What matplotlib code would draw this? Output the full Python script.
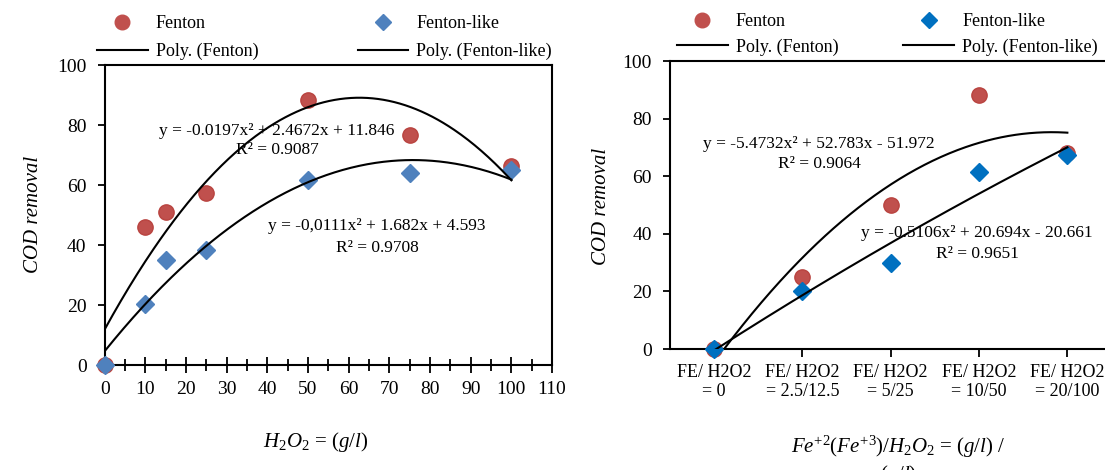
import numpy as np
import matplotlib
matplotlib.use('Agg')
import matplotlib.pyplot as plt
from matplotlib.lines import Line2D
from matplotlib.ticker import MultipleLocator

plt.rcParams['font.family'] = ['Liberation Serif', 'DejaVu Serif']
plt.rcParams['mathtext.fontset'] = 'custom'
plt.rcParams['mathtext.rm'] = 'Liberation Serif'
plt.rcParams['mathtext.it'] = 'Liberation Serif:italic'

# left panel: COD removal vs H2O2 dose (g/l)
h2o2 = [0, 10, 15, 25, 50, 75, 100]
fenton_h2o2 = [0, 46, 51, 57.2, 88.3, 76.7, 66.3]
like_h2o2 = [0, 20.3, 35, 38.3, 61.7, 64.1, 65]
# trendline coefficients as printed on the chart (a, b, c)
fit_fenton_h2o2 = [-0.0197, 2.4672, 11.846]
fit_like_h2o2 = [-0.0111, 1.682, 4.593]

# right panel: COD removal vs Fe/H2O2 ratio
ratio_labels = ['FE/ H2O2\n= 0', 'FE/ H2O2\n= 2.5/12.5', 'FE/ H2O2\n= 5/25',
                'FE/ H2O2\n= 10/50', 'FE/ H2O2\n= 20/100']
fenton_ratio = [0, 25, 50, 88.2, 68]
like_ratio = [0, 20, 30, 61.6, 67.4]
fit_fenton_ratio = [-5.4732, 52.783, -51.972]
fit_like_ratio = [-0.5106, 20.694, -20.661]

RED = '#C0504D'
BLUE_L = '#4F81BD'
BLUE_R = '#0070C0'


def style_axes(ax):
    for s in ax.spines.values():
        s.set_linewidth(1.5)
        s.set_color('black')
    ax.tick_params(labelsize=14, width=1.3, color='black')


def add_legend(fig, x, y, mk_color, colsp, labsp):
    handles = [
        Line2D([], [], ls='', marker='o', ms=10.5, color=RED, mec=RED),
        Line2D([], [], color='black', lw=1.5),
        Line2D([], [], ls='', marker='D', ms=8, color=mk_color, mec=mk_color),
        Line2D([], [], color='black', lw=1.5),
    ]
    labels = ['Fenton', 'Poly. (Fenton)', 'Fenton-like', 'Poly. (Fenton-like)']
    fig.legend(handles, labels, loc='upper left', bbox_to_anchor=(x, y), ncol=2,
               frameon=False, fontsize=13, handlelength=2.8, handletextpad=0.45,
               columnspacing=colsp, labelspacing=labsp, borderpad=0, borderaxespad=0)


fig = plt.figure(figsize=(11.05, 4.7), dpi=100)

# ---------- left chart ----------
ax1 = fig.add_axes([0.0947, 0.2234, 0.4049, 0.6383])
ax1.plot(h2o2, fenton_h2o2, 'o', color=RED, mec='#B9433F', ms=11, clip_on=False, zorder=3)
ax1.plot(h2o2, like_h2o2, 'D', color=BLUE_L, mec=BLUE_L, ms=9, clip_on=False, zorder=4)
xs = np.linspace(0, 100, 300)
ax1.plot(xs, np.polyval(fit_fenton_h2o2, xs), color='black', lw=1.5, zorder=5)
ax1.plot(xs, np.polyval(fit_like_h2o2, xs), color='black', lw=1.5, zorder=5)
ax1.set_xlim(0, 110)
ax1.set_ylim(0, 100)
ax1.xaxis.set_major_locator(MultipleLocator(10))
ax1.xaxis.set_minor_locator(MultipleLocator(5))
ax1.set_yticks(range(0, 101, 20))
style_axes(ax1)
ax1.tick_params(axis='x', which='major', direction='inout', length=11, pad=6)
ax1.tick_params(axis='x', which='minor', direction='inout', length=8, width=1.3)
ax1.tick_params(axis='y', direction='out', length=5, pad=8)

ax1.text(42.4, 78.0, 'y = -0.0197x² + 2.4672x + 11.846', fontsize=12.5, ha='center', va='center', zorder=2)
ax1.text(42.4, 71.8, 'R² = 0.9087', fontsize=12.5, ha='center', va='center', zorder=2)
ax1.text(67.0, 46.5, 'y = -0,0111x² + 1.682x + 4.593', fontsize=12.5, ha='center', va='center', zorder=2)
ax1.text(67.0, 39.0, 'R² = 0.9708', fontsize=12.5, ha='center', va='center', zorder=2)

fig.text(0.030, 0.543, 'COD removal', fontsize=15, style='italic', rotation=90, ha='center', va='center')
fig.text(0.286, 0.060, r'$H_2O_2$ = $(g/l)$', fontsize=15, ha='center', va='center')
add_legend(fig, 0.0878, 0.968, BLUE_L, 5.5, 0.6)

# ---------- right chart ----------
ax2 = fig.add_axes([0.6063, 0.2574, 0.3996, 0.6128])
cats = np.arange(1, len(ratio_labels) + 1)
ax2.plot(cats, fenton_ratio, 'o', color=RED, mec='#B9433F', ms=11, clip_on=False, zorder=3)
ax2.plot(cats, like_ratio, 'D', color=BLUE_R, mec=BLUE_R, ms=9, clip_on=False, zorder=4)
xr = np.linspace(1, 5, 300)
ax2.plot(xr, np.polyval(fit_fenton_ratio, xr), color='black', lw=1.5, zorder=5)
ax2.plot(xr, np.polyval(fit_like_ratio, xr), color='black', lw=1.5, zorder=5)
ax2.set_xlim(0.5, 5.5)
ax2.set_ylim(0, 100)
ax2.set_xticks(cats)
ax2.set_xticklabels(ratio_labels, fontsize=13, linespacing=1.1)
ax2.set_yticks(range(0, 101, 20))
style_axes(ax2)
ax2.tick_params(axis='x', direction='out', length=6, pad=5, labelsize=13)
ax2.tick_params(axis='y', direction='out', length=5, pad=8)

ax2.text(2.18, 71.3, 'y = -5.4732x² + 52.783x - 51.972', fontsize=12.5, ha='center', va='center', zorder=2)
ax2.text(2.19, 64.4, 'R² = 0.9064', fontsize=12.5, ha='center', va='center', zorder=2)
ax2.text(3.98, 40.4, 'y = -0.5106x² + 20.694x - 20.661', fontsize=12.5, ha='center', va='center', zorder=2)
ax2.text(3.98, 33.1, 'R² = 0.9651', fontsize=12.5, ha='center', va='center', zorder=2)

fig.text(0.544, 0.560, 'COD removal', fontsize=15, style='italic', rotation=90, ha='center', va='center')
fig.text(0.813, 0.050, r'$Fe^{+2}(Fe^{+3})/H_2O_2$ = $(g/l)$ /', fontsize=15, ha='center', va='center')
fig.text(0.813, -0.010, r'$(g/l)$', fontsize=15, ha='center', va='center')
add_legend(fig, 0.6127, 0.972, BLUE_R, 3.6, 0.45)

fig.savefig('out.png', dpi=100)
